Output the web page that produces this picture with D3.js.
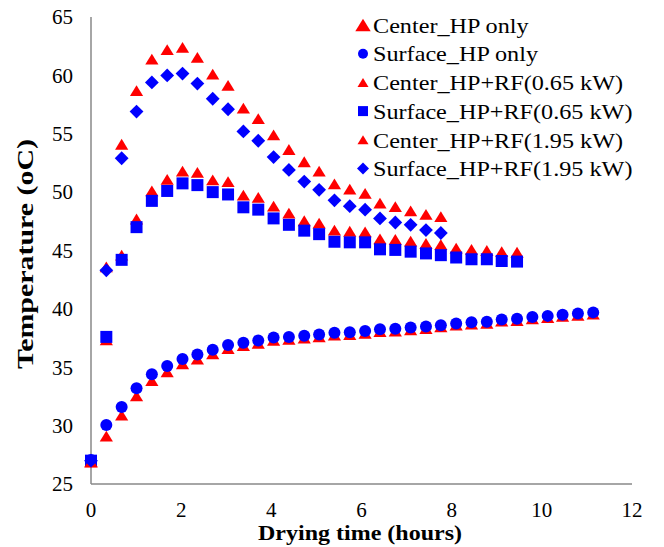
<!DOCTYPE html>
<html>
<head>
<meta charset="utf-8">
<script src="https://cdn.jsdelivr.net/npm/d3@7"></script>
<style>
  body { margin: 0; background: #fff; }
  text { font-family: "Liberation Serif", "Times New Roman", serif; }
</style>
</head>
<body>
<div id="chart"></div>
<script>
var width = 664;
var height = 547;

// drying time in hours, one reading about every 20 min
var times = [0, 0.34, 0.68, 1.01, 1.35, 1.69, 2.03, 2.36, 2.70, 3.04, 3.38, 3.71, 4.05, 4.39,
  4.73, 5.06, 5.40, 5.74, 6.08, 6.41, 6.75, 7.09, 7.43, 7.76, 8.10, 8.44, 8.78, 9.11,
  9.45, 9.79, 10.13, 10.46, 10.80, 11.14];

var centerHP = [26.9, 29.1, 30.9, 32.55, 33.85, 34.6, 35.3, 35.7, 36.15, 36.6, 36.85, 37.05,
  37.3, 37.4, 37.5, 37.6, 37.75, 37.8, 37.9, 38.05, 38.1, 38.2, 38.3, 38.45, 38.6, 38.7,
  38.75, 38.95, 39.0, 39.15, 39.25, 39.35, 39.45, 39.55];
var surfaceHP = [27.05, 30.05, 31.6, 33.2, 34.4, 35.1, 35.7, 36.1, 36.5, 36.9, 37.1, 37.3,
  37.55, 37.6, 37.7, 37.8, 37.95, 38.0, 38.1, 38.25, 38.3, 38.4, 38.5, 38.6, 38.75, 38.85,
  38.9, 39.1, 39.15, 39.3, 39.4, 39.5, 39.6, 39.7];

var center065 = [26.9, 37.35, 44.6, 47.7, 50.1, 51.1, 51.8, 51.7, 51.05, 50.9, 49.75, 49.55,
  48.8, 48.2, 47.55, 47.35, 46.75, 46.65, 46.6, 46.0, 45.95, 45.8, 45.6, 45.5, 45.2, 45.1,
  45.0, 44.9, 44.85];
var surface065 = [27.0, 37.6, 44.2, 47.0, 49.25, 50.1, 50.75, 50.6, 50.0, 49.8, 48.7, 48.5,
  47.75, 47.2, 46.7, 46.4, 45.75, 45.7, 45.7, 45.1, 45.05, 44.9, 44.75, 44.6, 44.4, 44.25,
  44.25, 44.1, 44.05];

var center195 = [26.9, 43.6, 54.1, 58.7, 61.4, 62.2, 62.4, 61.55, 60.1, 59.15, 57.2, 56.3,
  54.9, 53.65, 52.6, 51.8, 50.7, 50.25, 49.9, 49.05, 48.75, 48.4, 48.1, 47.9];
var surface195 = [27.0, 43.3, 52.9, 56.9, 59.4, 60.0, 60.15, 59.3, 58.0, 57.1, 55.2, 54.4,
  53.0, 51.9, 50.9, 50.2, 49.3, 48.8, 48.5, 47.75, 47.4, 47.2, 46.75, 46.5];

var seriesNames = ["Center_HP only", "Surface_HP only", "Center_HP+RF(0.65 kW)",
  "Surface_HP+RF(0.65 kW)", "Center_HP+RF(1.95 kW)", "Surface_HP+RF(1.95 kW)"];
var xTicks = [0, 2, 4, 6, 8, 10, 12];
var yTicks = [25, 30, 35, 40, 45, 50, 55, 60, 65];

var series = [
  {name: seriesNames[0], values: centerHP, shape: "triangle", color: "#ff0000"},
  {name: seriesNames[1], values: surfaceHP, shape: "circle", color: "#0000ff"},
  {name: seriesNames[2], values: center065, shape: "triangle", color: "#ff0000"},
  {name: seriesNames[3], values: surface065, shape: "square", color: "#0000ff"},
  {name: seriesNames[4], values: center195, shape: "triangle", color: "#ff0000"},
  {name: seriesNames[5], values: surface195, shape: "diamond", color: "#0000ff"}
];

var x = d3.scaleLinear().domain([0, 12]).range([91, 632]);
var y = d3.scaleLinear().domain([25, 65]).range([484, 17]);

// marker outlines, s = nominal size in px
function markerPath(shape, s){
  var h = s / 2;
  if(shape == "triangle") return "M0," + (-h * 0.9) + "L" + (h * 1.1) + "," + (h * 0.9) + "L" + (-h * 1.1) + "," + (h * 0.9) + "Z";
  if(shape == "square") return "M" + (-h) + "," + (-h) + "H" + h + "V" + h + "H" + (-h) + "Z";
  if(shape == "diamond") return "M0," + (-h * 1.2) + "L" + (h * 1.2) + ",0L0," + (h * 1.2) + "L" + (-h * 1.2) + ",0Z";
  return d3.arc()({innerRadius: 0, outerRadius: h, startAngle: 0, endAngle: 2 * Math.PI});
}

var svg = d3.select("#chart")
  .append("svg")
  .attr("width", width)
  .attr("height", height);

// axes lines
svg.append("line")
  .attr("x1", x(0)).attr("x2", x(12))
  .attr("y1", y(25)).attr("y2", y(25))
  .attr("stroke", "#898989").attr("stroke-width", 1.5);
svg.append("line")
  .attr("x1", x(0)).attr("x2", x(0))
  .attr("y1", y(25)).attr("y2", y(65))
  .attr("stroke", "#898989").attr("stroke-width", 1.5);

svg.selectAll(".ytick")
  .data(yTicks)
  .enter()
  .append("text")
  .attr("class", "ytick")
  .attr("x", 73)
  .attr("y", function(d){ return y(d); })
  .attr("dy", "0.35em")
  .attr("text-anchor", "end")
  .attr("font-size", "21px")
  .text(function(d){ return d; });

svg.selectAll(".xtick")
  .data(xTicks)
  .enter()
  .append("text")
  .attr("class", "xtick")
  .attr("x", function(d){ return x(d); })
  .attr("y", 517)
  .attr("text-anchor", "middle")
  .attr("font-size", "21px")
  .text(function(d){ return d; });

svg.append("text")
  .attr("x", 258)
  .attr("y", 540)
  .attr("font-size", "22px")
  .attr("font-weight", "bold")
  .attr("textLength", 204)
  .attr("lengthAdjust", "spacingAndGlyphs")
  .text("Drying time (hours)");

svg.append("text")
  .attr("transform", "translate(33,369) rotate(-90)")
  .attr("font-size", "23px")
  .attr("font-weight", "bold")
  .attr("textLength", 230)
  .attr("lengthAdjust", "spacingAndGlyphs")
  .text("Temperature (oC)");

// points
series.forEach(function(s){
  svg.append("g")
    .selectAll("path")
    .data(s.values)
    .enter()
    .append("path")
    .attr("d", markerPath(s.shape, s.shape == "diamond" ? 11.5 : 12))
    .attr("transform", function(d, i){
      return "translate(" + x(times[i]) + "," + y(d) + ")";
    })
    .attr("fill", s.color);
});

// legend
var legend = svg.append("g")
  .selectAll("g")
  .data(series)
  .enter()
  .append("g")
  .attr("transform", function(d, i){ return "translate(363," + (25 + i * 28.7) + ")"; });

legend.append("path")
  .attr("d", function(d, i){ return markerPath(d.shape, i == 0 ? 14 : 10); })
  .attr("fill", function(d){ return d.color; });

legend.append("text")
  .attr("transform", "translate(10,0) scale(1.1,1)")
  .attr("dy", "0.35em")
  .attr("font-size", "22px")
  .text(function(d){ return d.name; });
</script>
</body>
</html>
